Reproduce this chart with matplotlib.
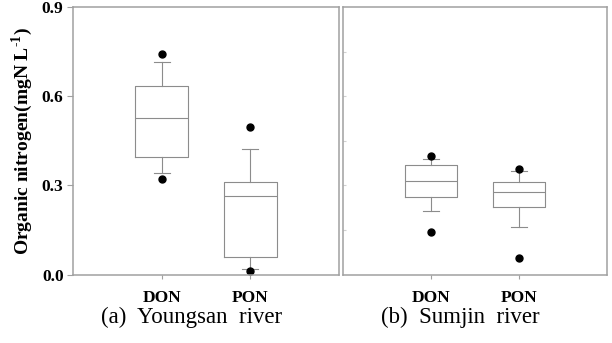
import matplotlib
matplotlib.use('Agg')
import matplotlib.pyplot as plt

plt.rcParams['font.family'] = ['Liberation Serif', 'DejaVu Serif']
plt.rcParams['mathtext.fontset'] = 'custom'
plt.rcParams['mathtext.rm'] = 'Liberation Serif:bold'
plt.rcParams['mathtext.bf'] = 'Liberation Serif:bold'

categories = ['DON', 'PON']
panel_titles = ['(a)  Youngsan  river', '(b)  Sumjin  river']

# box statistics: whislo, q1, med, q3, whishi
youngsan_stats = [[0.342, 0.396, 0.528, 0.634, 0.714],
                  [0.020, 0.058, 0.265, 0.311, 0.423]]
youngsan_fliers = [[0.742, 0.320], [0.495, 0.012]]
sumjin_stats = [[0.215, 0.260, 0.314, 0.367, 0.388],
                [0.161, 0.226, 0.277, 0.311, 0.348]]
sumjin_fliers = [[0.399, 0.144], [0.354, 0.057]]

yticks = [0.0, 0.3, 0.6, 0.9]
ylabel = 'Organic nitrogen(mgN L$^{\\text{-}1}$)'

gray = '#a0a0a0'
boxgray = '#8c8c8c'

fig = plt.figure(figsize=(6.12, 3.43), dpi=100)
ax1 = fig.add_axes([0.1198, 0.1997, 0.4341, 0.7799])
ax2 = fig.add_axes([0.5609, 0.1997, 0.4304, 0.7799])


def make_stats(stats, fliers):
    out = []
    for name, s, f in zip(categories, stats, fliers):
        out.append(dict(label=name, whislo=s[0], q1=s[1], med=s[2],
                        q3=s[3], whishi=s[4], fliers=f))
    return out


for ax, stats, fliers, title in [(ax1, youngsan_stats, youngsan_fliers, panel_titles[0]),
                                 (ax2, sumjin_stats, sumjin_fliers, panel_titles[1])]:
    ax.bxp(make_stats(stats, fliers), positions=[1, 2], widths=0.6,
           capwidths=0.18, showfliers=True,
           boxprops=dict(color=boxgray, linewidth=0.8),
           medianprops=dict(color=boxgray, linewidth=0.8),
           whiskerprops=dict(color=boxgray, linewidth=0.8),
           capprops=dict(color=boxgray, linewidth=0.8),
           flierprops=dict(marker='o', markerfacecolor='black',
                           markeredgecolor='black', markersize=5))
    ax.set_xlim(0, 3)
    ax.set_ylim(0, 0.9)
    for sp in ax.spines.values():
        sp.set_color(gray)
        sp.set_linewidth(1.1)
    ax.set_xticks([1, 2])
    ax.set_xticklabels(categories, fontweight='bold', fontsize=12.5)
    ax.tick_params(axis='x', length=3, color=gray, pad=8.5)
    ax.text(0.445, -0.18, title, transform=ax.transAxes, ha='center',
            va='baseline', fontsize=16.5)

ax1.set_yticks(yticks)
ax1.set_yticklabels(['%.1f' % v for v in yticks], fontweight='bold', fontsize=12.5)
ax1.tick_params(axis='y', length=4, color=gray, pad=3)
ax1.set_ylabel(ylabel, fontweight='bold', fontsize=14, labelpad=5)

ax2.set_yticks([0.15, 0.3, 0.45, 0.6, 0.75])
ax2.set_yticklabels([])
ax2.tick_params(axis='y', direction='in', length=2, color='#d0d0d0')

fig.savefig('out.png', dpi=100)
